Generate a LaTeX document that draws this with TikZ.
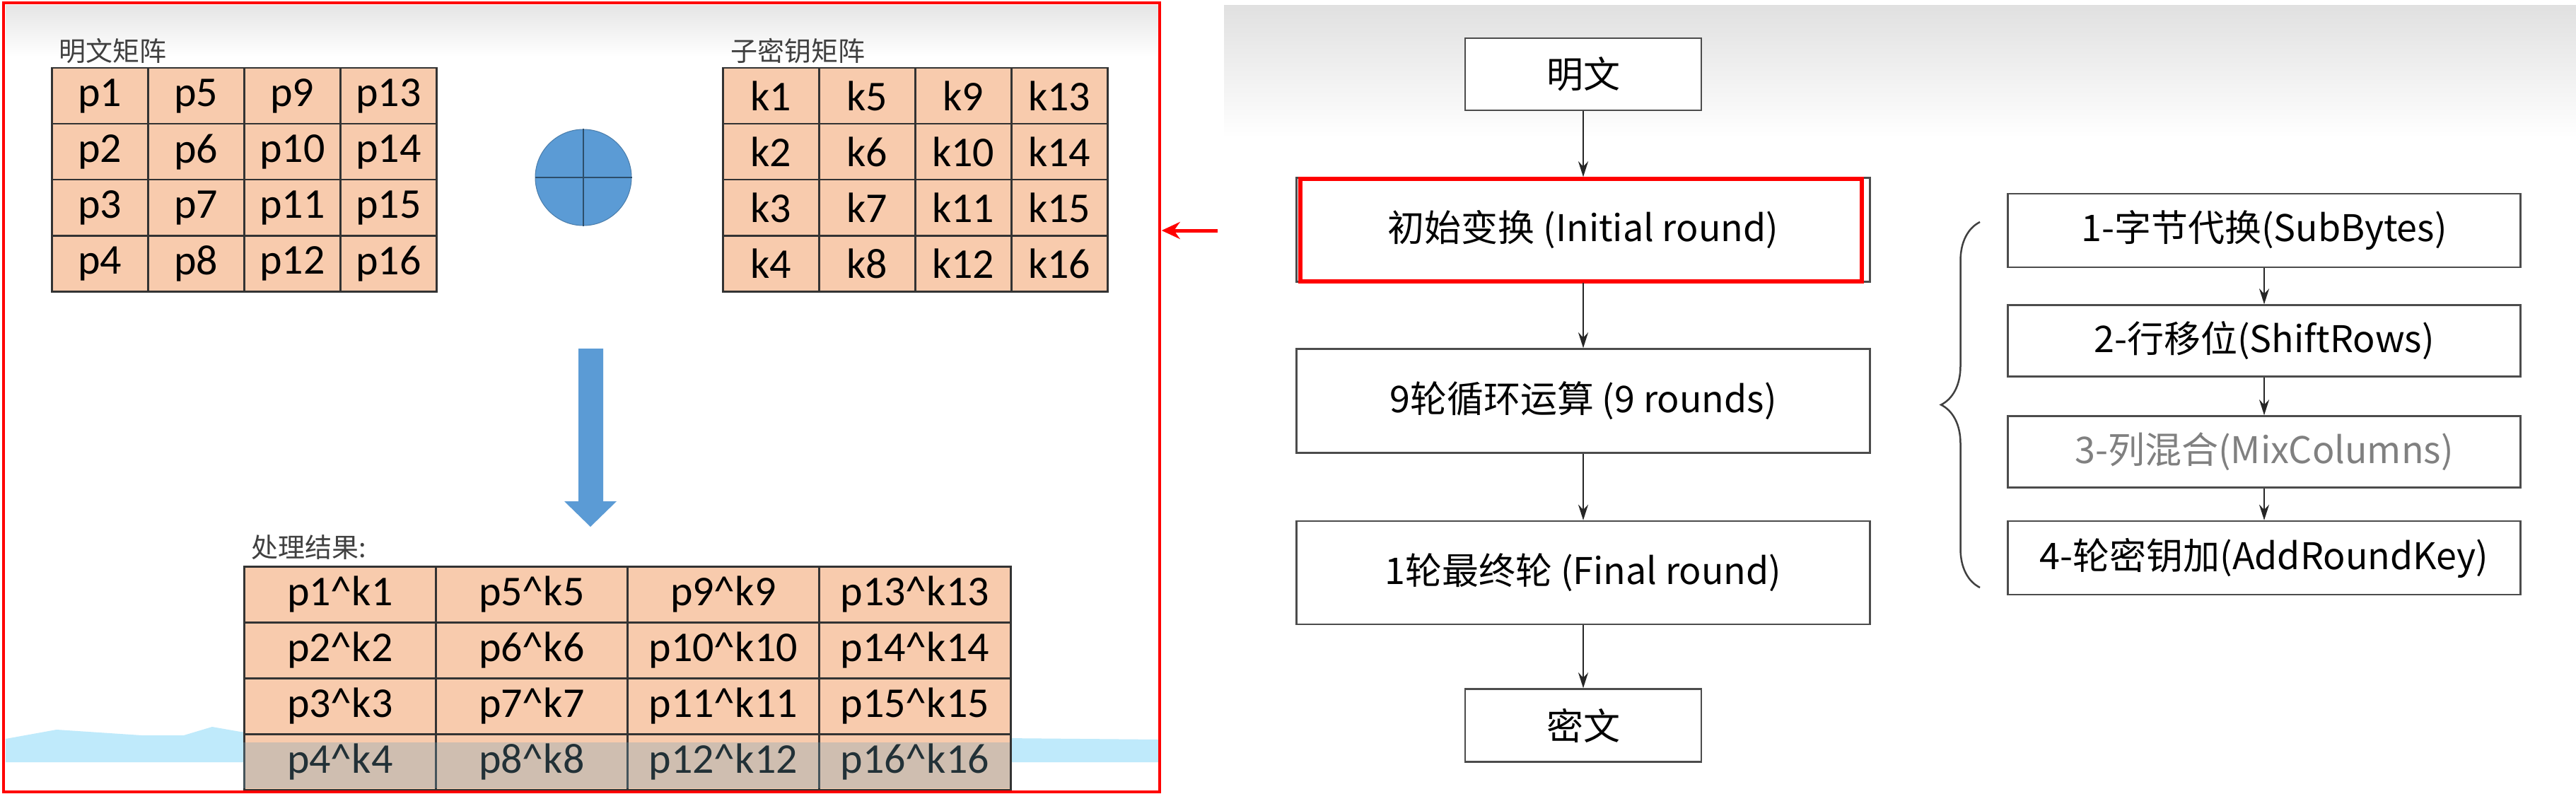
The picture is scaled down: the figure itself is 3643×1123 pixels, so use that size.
\documentclass[tikz,border=0pt]{standalone}
\usepackage{fontspec}
\setmainfont{Carlito}
\newfontfamily\cjk{Noto Sans CJK SC}
\usetikzlibrary{arrows.meta,decorations.pathreplacing}
\definecolor{salmon}{HTML}{F8CBAD}
\definecolor{xblue}{HTML}{5B9BD5}
\begin{document}
\begin{tikzpicture}[x=1pt,y=-1pt,
  cell/.style={draw=black!80,line width=2.5pt,fill=salmon,minimum width=#1,minimum height=79pt,inner sep=0pt,anchor=north west,font=\fontsize{60}{66}\selectfont},
  lbl/.style={anchor=south west,font=\cjk\fontsize{38}{42}\selectfont,text=black!75},
  fbox/.style={draw=black!70,line width=2.5pt,fill=white,inner sep=0pt,font=\cjk\fontsize{52}{60}\selectfont},
  flow/.style={-{Stealth[length=22pt,width=14pt]},line width=2pt,black!85}]
\useasboundingbox (0,0) rectangle (3643,1123);
\fill[white] (0,0) rectangle (3643,1123);
% left panel backgrounds
\shade[top color=black!10,bottom color=white] (8,8) rectangle (1638,80);
\fill[cyan!25] (8,1045) -- (80,1032) -- (200,1040) -- (260,1040) -- (300,1028) -- (340,1035) -- (700,1040) -- (1200,1042) -- (1638,1046) -- (1638,1078) -- (8,1078) -- cycle;
% right panel background
\shade[top color=black!12,bottom color=white] (1731,8) rectangle (3643,195);
% plaintext matrix
\node[lbl] (pl) at (80,93) {明文矩阵};
\foreach \c in {0,...,3}{\foreach \r in {1,...,4}{
  \pgfmathtruncatemacro{\n}{\c*4+\r}
  \node[cell=136pt] (p\n) at (72+136*\c,95+79*\r-79) {p\n};}}
% key matrix
\node[lbl] (kl) at (1030,93) {子密钥矩阵};
\foreach \c in {0,...,3}{\foreach \r in {1,...,4}{
  \pgfmathtruncatemacro{\n}{\c*4+\r}
  \node[cell=136pt] (k\n) at (1021+136*\c,95+79*\r-79) {k\n};}}
% xor symbol
\node[circle,fill=xblue,draw=xblue!80!black,line width=1pt,minimum size=136pt,inner sep=0pt] (xor) at (825,251) {};
\draw[xblue!50!black,line width=1.5pt] (xor.north) -- (xor.south) (xor.west) -- (xor.east);
% big arrow
\fill[xblue] (818,493) -- (853,493) -- (853,709) -- (872,709) -- (835,745) -- (798,709) -- (818,709) -- cycle;
% result matrix
\node[lbl] (rl) at (352,795) {处理结果:};
\foreach \c in {0,...,3}{\foreach \r in {1,...,4}{
  \pgfmathtruncatemacro{\n}{\c*4+\r}
  \node[cell=271pt] (r\n) at (344+271*\c,800+79*\r-79) {p\n\string^k\n};}}
\fill[cyan!40!gray,opacity=0.3] (344,1050) rectangle (1428,1115);
% red frame
\draw[red,line width=4pt] (5,4) rectangle (1640,1120);
\node[inner sep=0pt] (lp) at (1642,326) {};
\coordinate (rs) at (1722,326);
\draw[red,line width=5pt,-{Stealth[length=26pt,width=24pt]}] (rs) -- (lp);
% flow chart
\node[fbox,minimum width=334pt,minimum height=102pt] (m) at (2239,105) {明文};
\node[fbox,minimum width=811pt,minimum height=147pt] (ir) at (2239,325) {初始变换 (Initial round)};
\draw[red,line width=6pt] (1839,253) rectangle (2633,398);
\node[fbox,minimum width=811pt,minimum height=147pt] (nr) at (2239,567) {9轮循环运算 (9 rounds)};
\node[fbox,minimum width=811pt,minimum height=146pt] (fr) at (2239,810) {1轮最终轮 (Final round)};
\node[fbox,minimum width=334pt,minimum height=103pt] (c) at (2239,1026) {密文};
\draw[flow] (m) -- (ir);
\draw[flow] (ir) -- (nr);
\draw[flow] (nr) -- (fr);
\draw[flow] (fr) -- (c);
\node[fbox,minimum width=725pt,minimum height=104pt] (s1) at (3202,326) {1-字节代换(SubBytes)};
\node[fbox,minimum width=725pt,minimum height=101pt] (s2) at (3202,482) {2-行移位(ShiftRows)};
\node[fbox,minimum width=725pt,minimum height=101pt,text=black!50] (s3) at (3202,639) {3-列混合(MixColumns)};
\node[fbox,minimum width=725pt,minimum height=104pt] (s4) at (3202,789) {4-轮密钥加(AddRoundKey)};
\draw[flow] (s1) -- (s2);
\draw[flow] (s2) -- (s3);
\draw[flow] (s3) -- (s4);
\coordinate (bt) at (2800,314);
\coordinate (bb) at (2800,831);
\draw[black!75,line width=2.5pt,decorate,decoration={brace,amplitude=55pt}] (bb) -- (bt);
\end{tikzpicture}
\end{document}
